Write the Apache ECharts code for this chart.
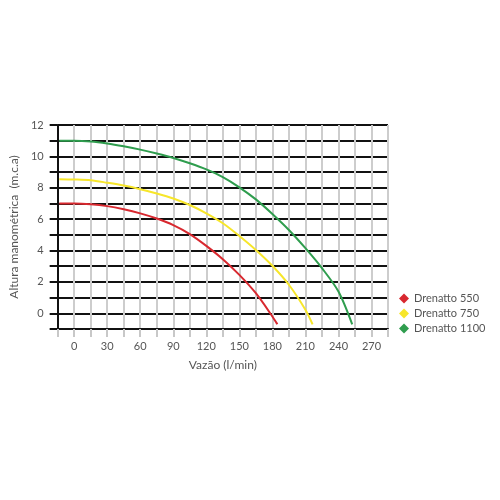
<!DOCTYPE html>
<html>
<head>
<meta charset="utf-8">
<script src="https://cdn.jsdelivr.net/npm/echarts@6/dist/echarts.min.js"></script>
<style>
  html, body { margin: 0; padding: 0; background: #fff; }
  #main { width: 500px; height: 500px; }
</style>
</head>
<body>
<div id="main"></div>
<script>
  // curvas das bombas: [vazão, altura]
  var nomes = ['Drenatto 550', 'Drenatto 750', 'Drenatto 1100']
  var cores = ['#d8282f', '#f7e62a', '#2f9d4e']

  var drenatto550 = [[-13.5, 7.0], [0, 7.0], [15, 6.95], [30, 6.83], [45, 6.63], [60, 6.37], [75, 6.04], [90, 5.62], [105, 5.05], [120, 4.3], [135, 3.45], [150, 2.45], [165, 1.28], [180, -0.2], [184.5, -0.7]]
  var drenatto750 = [[-13.5, 8.55], [0, 8.53], [15, 8.48], [30, 8.32], [45, 8.14], [60, 7.91], [75, 7.64], [90, 7.32], [105, 6.9], [120, 6.37], [135, 5.74], [150, 4.93], [165, 4.04], [180, 3.03], [195, 1.82], [210, 0.23], [216.5, -0.7]]
  var drenatto1100 = [[-13.5, 11.0], [0, 11.0], [15, 10.95], [30, 10.82], [45, 10.64], [60, 10.43], [75, 10.18], [90, 9.9], [105, 9.56], [120, 9.17], [135, 8.68], [150, 8.03], [165, 7.26], [180, 6.33], [195, 5.31], [210, 4.15], [225, 2.88], [240, 1.39], [252.5, -0.7]]

  var myChart = echarts.init(document.getElementById('main'))

  var fonte = 'Lato'
  var cinza = '#555'

  var option = {
      animation: false,
      grid: { left: 51, right: 112, top: 125, bottom: 171 },
      legend: {
          orient: 'vertical',
          left: 394,
          top: 288,
          itemWidth: 10,
          itemHeight: 10,
          itemGap: 4,
          icon: 'diamond',
          textStyle: { color: cinza, fontSize: 11, fontFamily: fonte },
          data: nomes
      },
      xAxis: {
          type: 'value',
          min: -15,
          max: 285,
          interval: 15,
          name: 'Vazão (l/min)',
          nameLocation: 'middle',
          nameGap: 30,
          nameTextStyle: { color: cinza, fontSize: 12, fontFamily: fonte },
          axisLine: { onZero: false, lineStyle: { color: '#111', width: 2 } },
          axisTick: { show: true, length: 8, lineStyle: { color: '#c8c8c8', width: 2 } },
          axisLabel: {
              color: cinza, fontSize: 11, fontFamily: fonte, margin: 12,
              formatter: function (v) { return (v >= 0 && v % 30 === 0) ? v : '' }
          },
          splitLine: { show: true, lineStyle: { color: '#cdcdcd', width: 2 } }
      },
      yAxis: {
          type: 'value',
          min: -1,
          max: 12,
          interval: 1,
          name: 'Altura manométrica  (m.c.a)',
          nameLocation: 'middle',
          nameGap: 37,
          nameTextStyle: { color: cinza, fontSize: 12, fontFamily: fonte },
          axisLine: { onZero: false, lineStyle: { color: '#111', width: 2 } },
          axisTick: { show: true, length: 8, lineStyle: { color: '#111', width: 2 } },
          axisLabel: {
              color: cinza, fontSize: 11, fontFamily: fonte, margin: 14,
              formatter: function (v) { return (v >= 0 && v % 2 === 0) ? v : '' }
          },
          splitLine: { show: true, lineStyle: { color: '#111', width: 2 } }
      },
      series: [drenatto550, drenatto750, drenatto1100].map(function (d, i) {
          return {
              name: nomes[i],
              type: 'line',
              smooth: 0.3,
              symbol: 'none',
              color: cores[i],
              lineStyle: { width: 2, color: cores[i] },
              data: d,
              z: 5
          }
      })
  }

  myChart.setOption(option)
</script>
</body>
</html>
